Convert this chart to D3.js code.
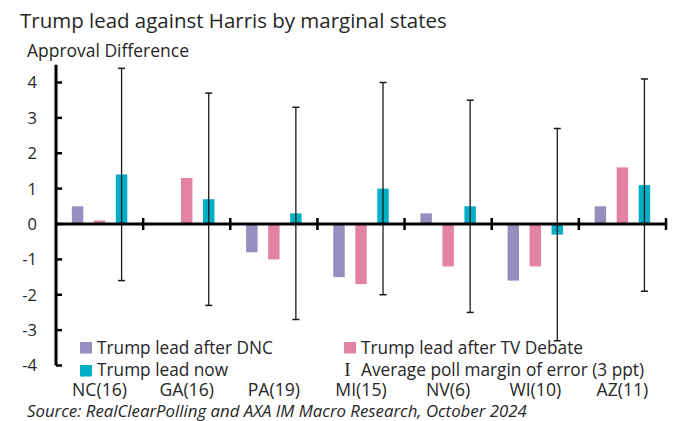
<!DOCTYPE html>
<html><head><meta charset="utf-8">
<script src="https://cdn.jsdelivr.net/npm/d3@7"></script>
<style>body{margin:0;background:#fff}svg{display:block}text{font-family:"Open Sans",Lato,sans-serif;fill:#262626}</style>
</head><body><svg id="c" width="675" height="421"></svg>
<script>
const states = ["NC(16)","GA(16)","PA(19)","MI(15)","NV(6)","WI(10)","AZ(11)"];
const afterDNC = [0.5, 0, -0.8, -1.5, 0.3, -1.6, 0.5];
const afterDebate = [0.1, 1.3, -1.0, -1.7, -1.2, -1.2, 1.6];
const leadNow = [1.4, 0.7, 0.3, 1.0, 0.5, -0.3, 1.1];
const marginOfError = 3;
const yTicks = [-4,-3,-2,-1,0,1,2,3,4];
const seriesNames = ["Trump lead after DNC","Trump lead after TV Debate","Trump lead now"];
const seriesColors = ["#948FBE","#E383A2","#00AFC7"];
const errorLabel = "Average poll margin of error (3 ppt)";

const svg = d3.select("#c");
const left = 56, right = 666;
const y = d3.scaleLinear().domain([-4, 4]).range([365.5, 82.5]);
const x0 = d3.scaleBand().domain(states).range([left, right]).padding(0);
const x1 = d3.scaleBand().domain([0,1,2]).range([0, x0.bandwidth()]).paddingInner(0.48).paddingOuter(0.72);

function fit(sel, w){ const n = sel.node(); const fs = parseFloat(sel.attr("font-size")); const L = n.getComputedTextLength(); sel.attr("font-size", fs*w/L); return sel; }

// title
fit(svg.append("text").attr("x",20).attr("y",28).attr("font-size",20).text("Trump lead against Harris by marginal states"), 427);
fit(svg.append("text").attr("x",27).attr("y",57).attr("font-size",16).text("Approval Difference"), 162);

// bars
const series = [afterDNC, afterDebate, leadNow];
series.forEach((vals, si) => {
  svg.append("g").selectAll("rect").data(vals.map((v,i)=>({v, s:states[i]}))).join("rect")
    .attr("x", d => x0(d.s) + x1(si))
    .attr("width", x1.bandwidth())
    .attr("y", d => y(Math.max(0, d.v)))
    .attr("height", d => Math.abs(y(d.v) - y(0)))
    .attr("fill", seriesColors[si]);
});

// error bars on "now"
const eb = svg.append("g").attr("stroke","#1a1a1a");
leadNow.forEach((v,i) => {
  const cx = x0(states[i]) + x1(2) + x1.bandwidth()/2;
  eb.append("line").attr("x1",cx).attr("x2",cx).attr("y1",y(v+marginOfError)).attr("y2",y(v-marginOfError)).attr("stroke-width",1.3);
  [v+marginOfError, v-marginOfError].forEach(e => eb.append("line").attr("x1",cx-3.5).attr("x2",cx+3.5).attr("y1",y(e)).attr("y2",y(e)).attr("stroke-width",1.5));
});

// y axis
const yAxis = svg.append("g");
yAxis.append("line").attr("x1",left).attr("x2",left).attr("y1",y(4.5)).attr("y2",y(-4)).attr("stroke","#000").attr("stroke-width",3);
yTicks.forEach(t => {
  yAxis.append("line").attr("x1",left).attr("x2",left+6).attr("y1",y(t)).attr("y2",y(t)).attr("stroke","#000").attr("stroke-width",2.5);
  yAxis.append("text").attr("x",37).attr("y",y(t)).attr("dy","0.36em").attr("text-anchor","end").attr("font-size",16.5).text(String(t));
});

// x axis
const xAxis = svg.append("g");
xAxis.append("line").attr("x1",left).attr("x2",right+1).attr("y1",y(0)).attr("y2",y(0)).attr("stroke","#000").attr("stroke-width",3);
let xFs = 17;
states.forEach((s,i) => {
  const xe = x0(s) + x0.bandwidth();
  xAxis.append("line").attr("x1",xe).attr("x2",xe).attr("y1",y(0)-6).attr("y2",y(0)+6).attr("stroke","#000").attr("stroke-width",2.5);
  const t = xAxis.append("text").attr("x",x0(s)+x0.bandwidth()/2).attr("y",396).attr("text-anchor","middle").attr("font-size",xFs).text(s);
  if (i===0) { fit(t, 55); xFs = parseFloat(t.attr("font-size")); }
});

// legend
const leg = svg.append("g");
const legItems = [
  {sx:80, sy:342, tx:97, ty:354, c:seriesColors[0], t:seriesNames[0]},
  {sx:80, sy:365, tx:97, ty:376, c:seriesColors[2], t:seriesNames[2]},
  {sx:344, sy:342, tx:361, ty:354, c:seriesColors[1], t:seriesNames[1]},
];
let legFs = 18;
legItems.forEach((d,i) => {
  leg.append("rect").attr("x",d.sx).attr("y",d.sy).attr("width",12).attr("height",11.5).attr("fill",d.c);
  const t = leg.append("text").attr("x",d.tx).attr("y",d.ty).attr("font-size",legFs).text(d.t);
  if (i===0) { fit(t, 176); legFs = parseFloat(t.attr("font-size")); }
});
leg.selectAll("text").attr("font-size", legFs);
leg.append("text").attr("x",347.5).attr("y",376).attr("text-anchor","middle").attr("font-size",19).style("font-family","'Liberation Serif',serif").text("I");
leg.append("text").attr("x",361).attr("y",376).attr("font-size",legFs).text(errorLabel);

// source
fit(svg.append("text").attr("x",27).attr("y",417).attr("font-size",15).attr("font-style","italic").text("Source: RealClearPolling and AXA IM Macro Research, October 2024"), 500);
</script></body></html>
